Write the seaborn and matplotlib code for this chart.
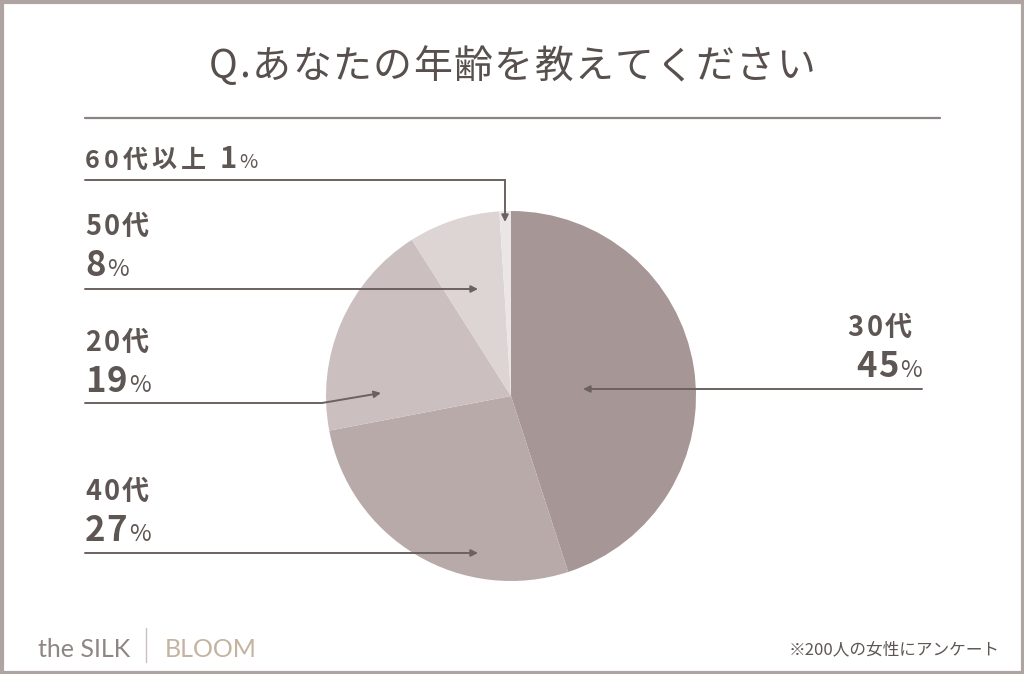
import matplotlib
matplotlib.use("Agg")
import matplotlib.pyplot as plt
import seaborn as sns

# data
ages = ["30代", "40代", "20代", "50代", "60代以上"]
shares = [45, 27, 19, 8, 1]
slice_colors = ["#a69796", "#b8aaa9", "#cbbfbf", "#ddd5d4", "#ebe6e6"]
title = "Q.あなたの年齢を教えてください"
note = "※200人の女性にアンケート"

sns.set_style("white")
plt.rcParams['font.family'] = ['Noto Sans CJK JP', 'DejaVu Sans']

W, H = 1024, 674
fig = plt.figure(figsize=(W / 100, H / 100), dpi=100)
fig.patch.set_facecolor("white")

# pie centred at (511, 396) px, radius 185
cx, cy, r = 511, 396, 185
pax = fig.add_axes([(cx - r) / W, (H - cy - r) / H, 2 * r / W, 2 * r / H])
pax.pie(shares, colors=sns.color_palette(slice_colors), startangle=90,
        counterclock=False, wedgeprops=dict(linewidth=0))
pax.set_xlim(-1, 1)
pax.set_ylim(-1, 1)
pax.axis("off")

# overlay in pixel coordinates
ax = fig.add_axes([0, 0, 1, 1])
ax.set_xlim(0, W)
ax.set_ylim(H, 0)
ax.axis("off")

txt = "#5e5653"
line_c = "#6b625f"

# border
ax.add_patch(plt.Rectangle((1.5, 1.5), W - 3, H - 3, fill=False, ec="#aea4a2", lw=3))

fig.canvas.draw()
renderer = fig.canvas.get_renderer()


def spaced(x, y, s, size, gap, **kw):
    # draw text char by char with extra tracking, return end x
    for ch in s:
        t = ax.text(x, y, ch, ha="left", va="baseline", fontsize=size, **kw)
        x += t.get_window_extent(renderer).width + gap
    return x - gap


def width_of(s, size, gap, **kw):
    total = 0
    for ch in s:
        t = ax.text(0, 0, ch, fontsize=size, **kw)
        total += t.get_window_extent(renderer).width + gap
        t.remove()
    return total - gap


def pct(x, y, value, size, ha="left"):
    kw_n = dict(fontweight="bold", color=txt)
    kw_p = dict(color=txt)
    if ha == "right":
        wn = width_of(str(value), size, 1, **kw_n)
        wp = width_of("%", size * 0.68, 0, **kw_p)
        x = x - wn - wp - 2
    end = spaced(x, y, str(value), size, 1, **kw_n)
    spaced(end + 2, y, "%", size * 0.68, 0, **kw_p)


label_kw = dict(fontweight="bold", color=txt)

tw = width_of(title, 28, 1.5, color="#57504d")
spaced(512 - tw / 2, 78, title, 28, 1.5, color="#57504d")
ax.plot([85, 940], [118, 118], color="#8c8481", lw=1.6)

arrow = dict(arrowstyle="-|>", color=line_c, lw=1.4, mutation_scale=10, shrinkA=0, shrinkB=0)

# 60代以上
end = spaced(85, 168, ages[4], 18, 4, **label_kw)
pct(end + 14, 168, shares[4], 21)
ax.plot([85, 505], [180, 180], color=line_c, lw=1.4)
ax.annotate("", xy=(505, 222), xytext=(505, 180), arrowprops=arrow)

# 50代
spaced(85, 235, ages[3], 19.5, 2.5, **label_kw)
pct(85, 276, shares[3], 25)
ax.annotate("", xy=(478, 289), xytext=(85, 289), arrowprops=arrow)

# 20代
spaced(85, 351, ages[2], 19.5, 2.5, **label_kw)
pct(85, 392, shares[2], 25)
ax.plot([85, 322], [403, 403], color=line_c, lw=1.4)
ax.annotate("", xy=(381, 393), xytext=(322, 403), arrowprops=arrow)

# 40代
spaced(85, 500, ages[1], 19.5, 2.5, **label_kw)
pct(85, 541, shares[1], 25)
ax.annotate("", xy=(478, 553), xytext=(85, 553), arrowprops=arrow)

# 30代
w30 = width_of(ages[0], 19.5, 2.5, **label_kw)
spaced(912 - w30, 336, ages[0], 19.5, 2.5, **label_kw)
pct(922, 377, shares[0], 25, ha="right")
ax.annotate("", xy=(583, 389), xytext=(922, 389), arrowprops=arrow)

# footer
ax.text(38, 657, "the SILK", ha="left", va="baseline", fontsize=18, color="#8e8684",
        fontweight="normal", family=["Lato", "DejaVu Sans"])
ax.plot([146, 146], [628, 662], color="#c9c0bd", lw=1)
ax.text(165, 657, "BLOOM", ha="left", va="baseline", fontsize=18, color="#c4b39f",
        fontweight="normal", family=["Lato", "DejaVu Sans"])
ax.text(1000, 654, note, ha="right", va="baseline", fontsize=12, color=txt)

fig.savefig("out.png", dpi=100, facecolor="white")
